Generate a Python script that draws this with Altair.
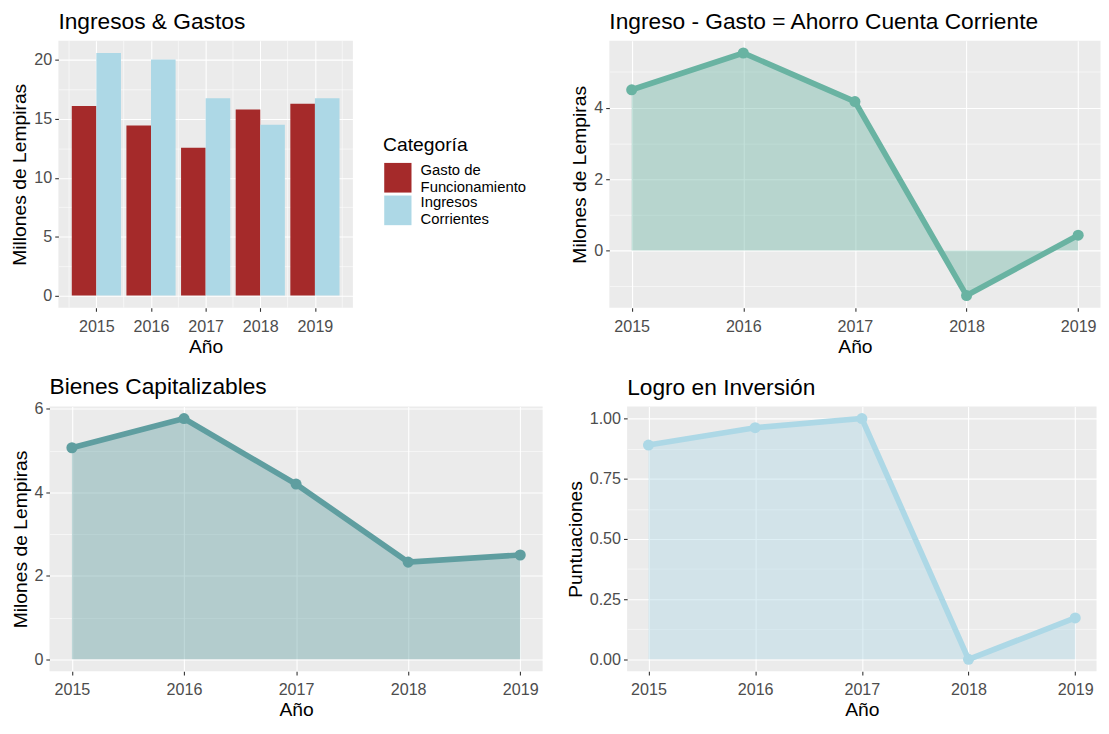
import altair as alt
import pandas as pd

FONT = "Liberation Sans"

# ---- data ----
years = [2015, 2016, 2017, 2018, 2019]
categorias = ["Gasto de\nFuncionamiento", "Ingresos\nCorrientes"]
gasto = [16.1, 14.45, 12.55, 15.8, 16.3]
ingresos = [20.6, 20.05, 16.75, 14.5, 16.75]
ahorro = [4.5, 5.53, 4.17, -1.26, 0.43]
bienes = [5.07, 5.77, 4.2, 2.33, 2.5]
logro = [0.89, 0.962, 1.0, 0.0, 0.172]

bar_colors = ["#A52A2A", "#ADD8E6"]
col_ahorro = "#69B3A2"
col_bienes = "#5F9EA0"
col_logro = "#ADD8E6"

df_bars = pd.DataFrame({
    "Año": years * 2,
    "Categoria": [categorias[0]] * len(years) + [categorias[1]] * len(years),
    "valor": gasto + ingresos,
})
df_ahorro = pd.DataFrame({"Año": years, "valor": ahorro})
df_bienes = pd.DataFrame({"Año": years, "valor": bienes})
df_logro = pd.DataFrame({"Año": years, "valor": logro})
df_half_years = pd.DataFrame({"Año": [y - 0.5 for y in years] + [years[-1] + 0.5]})


def expand(lo, hi, m=0.05):
    d = (hi - lo) * m
    return [lo - d, hi + d]


def cond(test, minor, major):
    return {"condition": {"test": test, "value": minor}, "value": major}


def mixed_axis(majors, minors, step, title, fmt=None):
    # a value is "minor" when it is not a multiple of the major step
    test = f"abs(datum.value / {step} - round(datum.value / {step})) > 1e-6"
    kw = dict(
        values=sorted(majors + minors),
        labelExpr=f"({test}) ? '' : datum.label",
        gridWidth=cond(test, 0.55, 1.1),
        tickOpacity=cond(test, 0, 1),
        title=title,
    )
    if fmt:
        kw["format"] = fmt
    return alt.Axis(**kw)


def spacer():
    return (alt.Chart(pd.DataFrame({"s": [0]}))
            .mark_point(size=0, opacity=0, strokeWidth=0)
            .properties(width=1, height=1,
                        view=alt.ViewBackground(fill="#FFFFFF", strokeWidth=0)))


H1 = 270
H2 = 268

# ---- panel 1: dodged bars on a numeric year axis ----
half = 0.45
cat0_expr = categorias[0].replace("\n", "\\n")
x_scale_bar = alt.Scale(domain=expand(min(years) - half, max(years) + half), nice=False, zero=False)

minor_x = (
    alt.Chart(df_half_years)
    .mark_rule(color="#FFFFFF", strokeWidth=0.55)
    .encode(x=alt.X("Año:Q", scale=x_scale_bar))
)
bars = (
    alt.Chart(df_bars)
    .transform_calculate(
        x0=f"datum['Año'] + (datum.Categoria == '{cat0_expr}' ? -{half} : 0)"
    )
    .transform_calculate(x1=f"datum.x0 + {half}")
    .mark_bar()
    .encode(
        x=alt.X("x0:Q", scale=x_scale_bar,
                axis=alt.Axis(values=years, format="d", title="Año", gridWidth=1.1)),
        x2="x1:Q",
        y=alt.Y("valor:Q", stack=None,
                scale=alt.Scale(domain=expand(0, max(ingresos)), nice=False, zero=False),
                axis=mixed_axis([0, 5, 10, 15, 20], [2.5, 7.5, 12.5, 17.5], 5,
                                "Millones de Lempiras")),
        y2=alt.datum(0),
        color=alt.Color("Categoria:N",
                        scale=alt.Scale(domain=categorias, range=bar_colors),
                        legend=alt.Legend(
                            title="Categoría", orient="none", legendX=328.5, legendY=96,
                            symbolType="M-0.92,-1H0.92V1H-0.92Z", symbolSize=900,
                            symbolStrokeWidth=0, symbolOpacity=1,
                            labelExpr="split(datum.label, '\\n')",
                            labelBaseline="bottom",
                            labelFontSize=15, labelColor="#000000", labelFont=FONT,
                            titleFontSize=19.5, titleFont=FONT, titleFontWeight="normal",
                            titleColor="#000000", titlePadding=8, labelOffset=8,
                            rowPadding=1, padding=0)),
    )
)
p1 = alt.layer(minor_x, bars).properties(width=298, height=H1, title="Ingresos & Gastos")


def line_panel(df, color, ydom, ymaj, ymin, ystep, ytitle, title, w, h, fmt=None, title_dy=0):
    x = alt.X("Año:Q", scale=alt.Scale(domain=expand(min(years), max(years)), nice=False, zero=False),
              axis=mixed_axis(years, [y + 0.5 for y in years[:-1]], 1, "Año", "d"))
    y = alt.Y("valor:Q", scale=alt.Scale(domain=ydom, nice=False, zero=False),
              axis=mixed_axis(ymaj, ymin, ystep, ytitle, fmt))
    base = alt.Chart(df).encode(x=x, y=y)
    area = base.mark_area(color=color, opacity=0.4)
    line = base.mark_line(color=color, strokeWidth=5.7)
    pts = base.mark_circle(color=color, size=125, opacity=1)
    return alt.layer(area, line, pts).properties(
        width=w, height=h, title=alt.TitleParams(title, dy=title_dy))


p2 = line_panel(df_ahorro, col_ahorro, expand(min(ahorro + [0]), max(ahorro)),
                [0, 2, 4], [-1, 1, 3, 5], 2,
                "Milones de Lempiras", "Ingreso - Gasto = Ahorro Cuenta Corriente", 497, H1)
p3 = line_panel(df_bienes, col_bienes, expand(min(bienes + [0]), max(bienes)),
                [0, 2, 4, 6], [1, 3, 5], 2,
                "Milones de Lempiras", "Bienes Capitalizables", 499, H2, title_dy=5)
p4 = line_panel(df_logro, col_logro, expand(min(logro + [0]), max(logro)),
                [0, 0.25, 0.5, 0.75, 1.0], [0.125, 0.375, 0.625, 0.875], 0.25,
                "Puntuaciones", "Logro en Inversión", 475, H2, ".2f")

left1 = alt.hconcat(spacer(), p1, spacing=0).resolve_scale(color="independent")
left2 = alt.hconcat(spacer(), p3, spacing=0).resolve_scale(color="independent")
row1 = alt.hconcat(left1, p2, spacing=43.5).resolve_scale(color="independent")
row2 = alt.hconcat(left2, p4, spacing=22.5).resolve_scale(color="independent")

chart = (
    alt.vconcat(row1, row2, spacing=20)
    .resolve_scale(color="independent")
    .properties(padding={"left": 1, "top": -2, "right": 0, "bottom": 0})
    .configure(font=FONT, background="white")
    .configure_view(fill="#EBEBEB", strokeWidth=0)
    .configure_axis(
        domain=False, tickColor="#333333", tickSize=3.7, tickWidth=1.1,
        labelColor="#4D4D4D", labelFontSize=16.3, labelFont=FONT, labelPadding=3,
        titleFont=FONT, titleFontSize=19.5, titleColor="#000000", titleFontWeight="normal",
        titlePadding=4, gridColor="#FFFFFF", labelFlush=False, labelOverlap=False, labelBound=False,
    )
    .configure_axisX(labelPadding=7, titlePadding=3)
    .configure_title(anchor="start", frame="group", fontSize=23, font=FONT,
                     fontWeight="normal", color="#000000", offset=7)
)

chart.save("out.html", embed_options={"renderer": "svg", "actions": False})
